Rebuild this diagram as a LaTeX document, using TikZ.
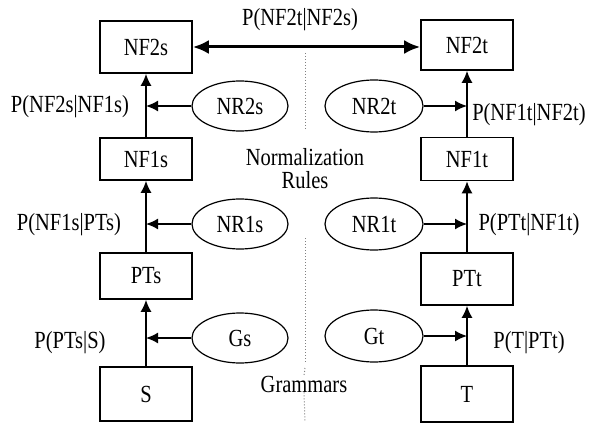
\documentclass[tikz,border=0pt]{standalone}
\usepackage{fontspec}
\setmainfont{Liberation Serif}
\usetikzlibrary{arrows.meta,shapes.geometric}
\newcommand{\stt}[1]{\scalebox{1}[1.2]{#1}}
\tikzset{
  box/.style={draw, line width=1.6pt, minimum width=92pt, inner sep=0pt},
  oval/.style={draw, shape=ellipse, line width=1.2pt, minimum width=96pt, minimum height=50pt, inner sep=0pt},
  arr/.style={line width=1.6pt, -{Latex[length=12pt,width=11pt]}},
  bigarr/.style={line width=3pt, {Latex[length=16pt,width=14pt]}-{Latex[length=16pt,width=14pt]}},
  lbl/.style={inner sep=0pt},
  dots/.style={gray, dotted, line width=1pt}
}
\begin{document}
\begin{tikzpicture}[x=1pt,y=1pt,font=\rmfamily\fontsize{20.5}{24}\selectfont]
\useasboundingbox[fill=white] (0,0) rectangle (592,424);
% boxes
\node[box, minimum height=52pt] (NF2s) at (146,377) {\stt{NF2s}};
\node[box, minimum height=42pt] (NF1s) at (146,265) {\stt{NF1s}};
\node[box, minimum height=46pt] (PTs) at (146,148) {\stt{PTs}};
\node[box, minimum height=54pt] (S) at (146,30) {\stt{S}};
\node[box, minimum height=50pt] (NF2t) at (467,379) {\stt{NF2t}};
\node[box, minimum height=43pt] (NF1t) at (467,265) {\stt{NF1t}};
\node[box, minimum height=52pt] (PTt) at (467,145) {\stt{PTt}};
\node[box, minimum height=56pt] (T) at (467,30) {\stt{T}};
% ellipses
\node[oval] (NR2s) at (240,318) {\stt{NR2s}};
\node[oval] (NR1s) at (240,200) {\stt{NR1s}};
\node[oval] (Gs) at (240,86) {\stt{Gs}};
\node[oval, minimum width=98pt, minimum height=52pt] (NR2t) at (374,318) {\stt{NR2t}};
\node[oval, minimum width=98pt, minimum height=52pt] (NR1t) at (374,200) {\stt{NR1t}};
\node[oval, minimum width=98pt, minimum height=52pt] (Gt) at (374,88) {\stt{Gt}};
% vertical arrows
\draw[arr] (NF1s.north) -- (NF2s.south);
\draw[arr] (PTs.north) -- (NF1s.south);
\draw[arr] (S.north) -- (PTs.south);
\draw[arr] (NF1t.north) -- (NF2t.south);
\draw[arr] (PTt.north) -- (NF1t.south);
\draw[arr] (T.north) -- (PTt.south);
% horizontal arrows
\draw[arr] (NR2s.west) -- (NR2s.west -| NF2s.south);
\draw[arr] (NR1s.west) -- (NR1s.west -| NF1s.south);
\draw[arr] (Gs.west) -- (Gs.west -| PTs.south);
\draw[arr] (NR2t.east) -- (NR2t.east -| NF2t.south);
\draw[arr] (NR1t.east) -- (NR1t.east -| NF1t.south);
\draw[arr] (Gt.east) -- (Gt.east -| PTt.south);
% top double arrow
\draw[bigarr] (NF2s.east |- 0,377) -- (NF2t.west |- 0,377);
\node[lbl] (top) at (300,404) {\stt{P(NF2t|NF2s)}};
% labels
\node[lbl] (l1) at (70,317) {\stt{P(NF2s|NF1s)}};
\node[lbl] (l2) at (69,199) {\stt{P(NF1s|PTs)}};
\node[lbl] (l3) at (70,81) {\stt{P(PTs|S)}};
\node[lbl] (r1) at (529,309) {\stt{P(NF1t|NF2t)}};
\node[lbl] (r2) at (529,199) {\stt{P(PTt|NF1t)}};
\node[lbl] (r3) at (529,81) {\stt{P(T|PTt)}};
% middle texts
\node[lbl] (norm) at (305,267) {\stt{Normalization}};
\node[lbl] (rules) at (305,244) {\stt{Rules}};
\node[lbl] (gram) at (304,40) {\stt{Grammars}};
% dotted separator
\coordinate (d1) at (305,371);
\coordinate (d2) at (305,294);
\coordinate (d3) at (305,186);
\coordinate (d4) at (305,62);
\coordinate (d5) at (305,56);
\coordinate (d6) at (305,2);
\draw[dots] (d1) -- (d2);
\draw[dots] (d3) -- (d4);
\draw[dots] (d5) -- (gram.north);
\draw[dots] (gram.south) -- (d6);
\end{tikzpicture}
\end{document}
